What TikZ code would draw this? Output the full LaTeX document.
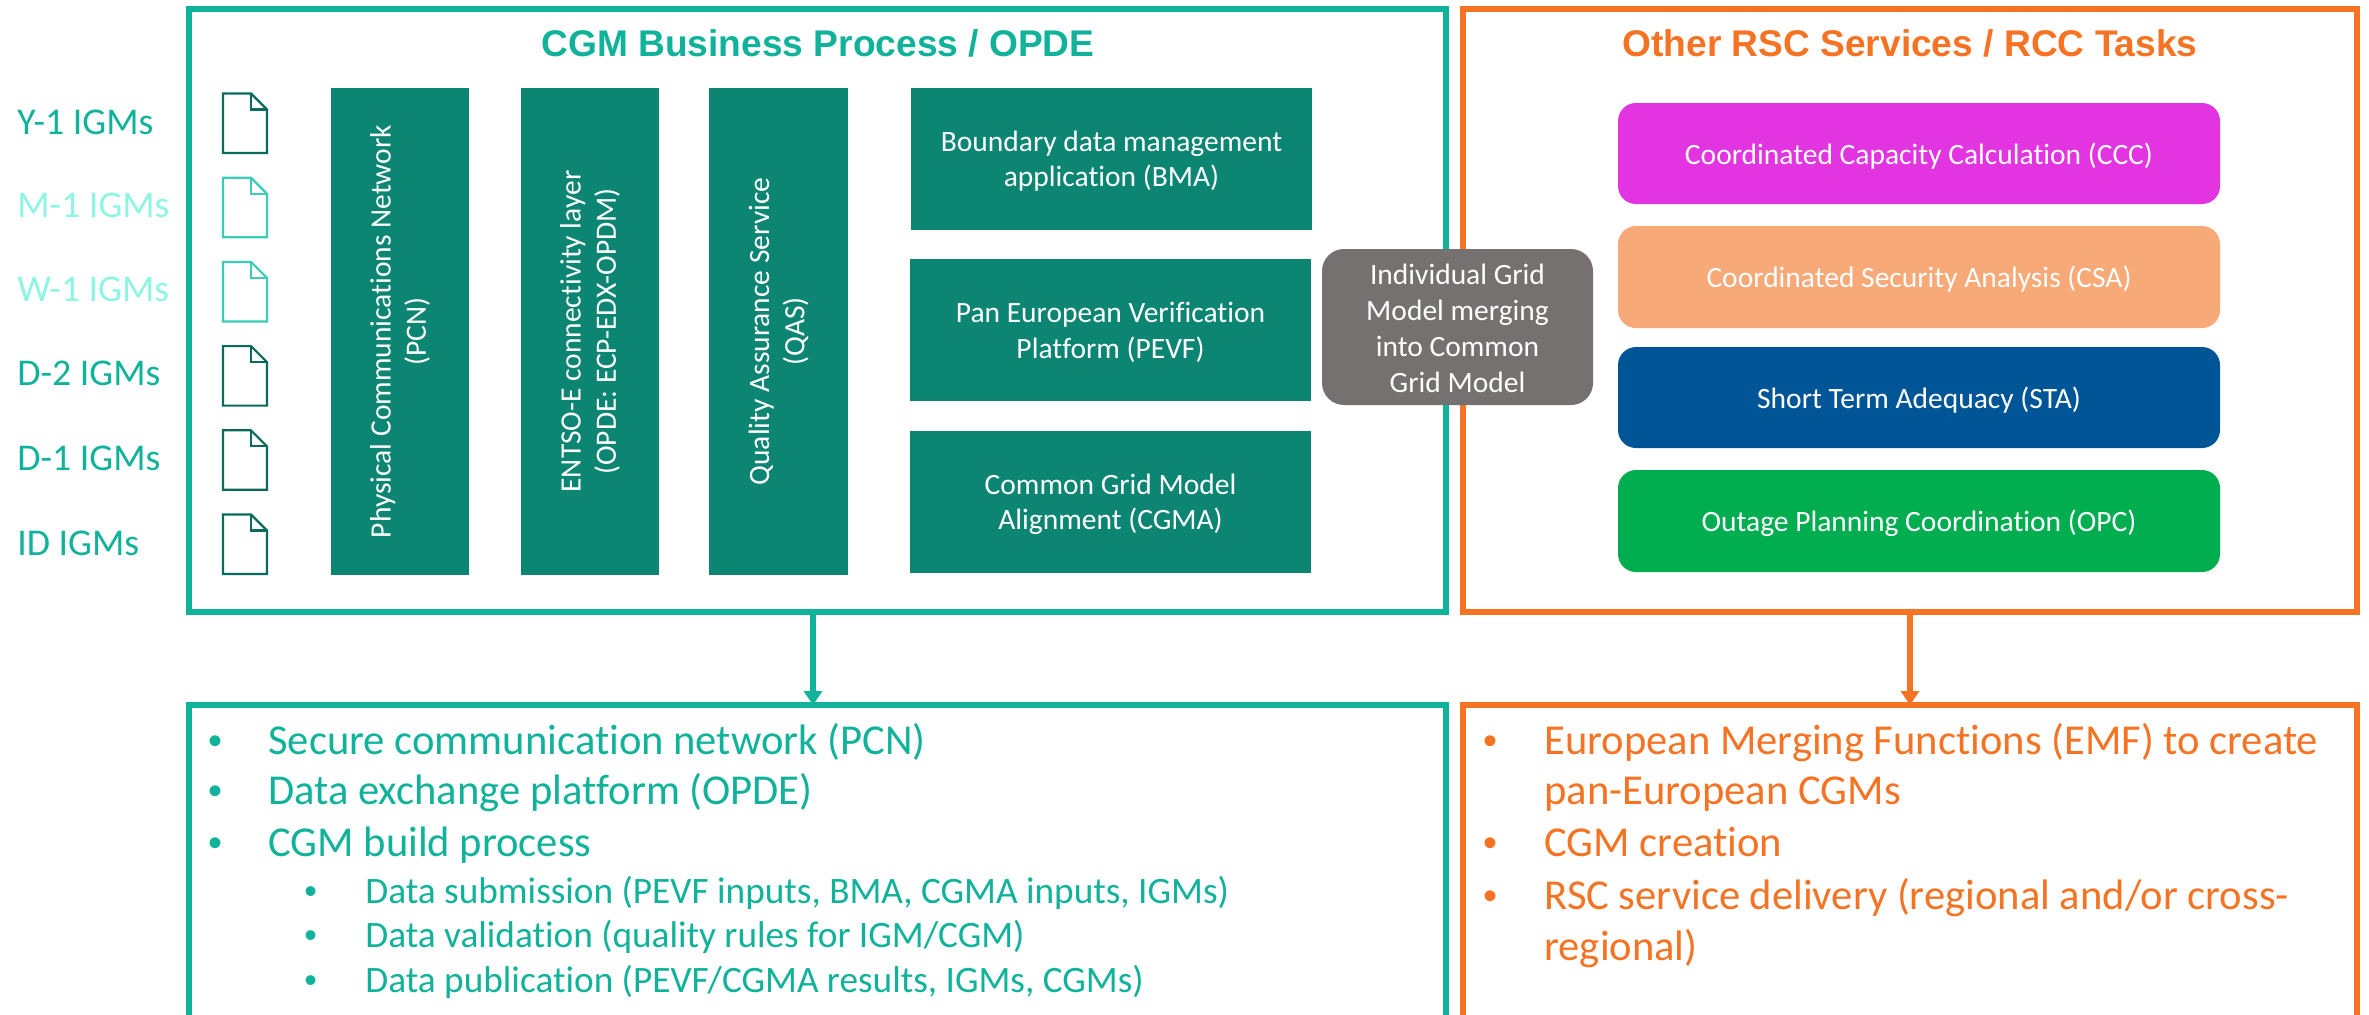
\documentclass[tikz,border=0pt]{standalone}
\usepackage{fontspec}
\setmainfont{Carlito}[Ligatures=NoCommon]
\newfontfamily\headfont{Liberation Sans}
\usetikzlibrary{arrows.meta,calc}
\definecolor{teal1}{HTML}{10B29A}
\definecolor{lightt}{HTML}{8FF5E3}
\definecolor{barc}{HTML}{0D8573}
\definecolor{docd}{HTML}{0A6B5C}
\definecolor{docl}{HTML}{3CCDB8}
\definecolor{oran}{HTML}{F57322}
\definecolor{greyb}{HTML}{767171}
\definecolor{mag}{HTML}{E234E0}
\definecolor{peach}{HTML}{F7A978}
\definecolor{blueb}{HTML}{005596}
\definecolor{greenb}{HTML}{00AE50}
\tikzset{
  x=0.5pt,y=-0.5pt,
  frame/.style={draw=#1,line width=3pt,inner sep=0pt,outer sep=0pt,anchor=north west},
  bar/.style={fill=barc,inner sep=0pt,outer sep=0pt,anchor=north west},
  wtext/.style={text=white,align=center,inner sep=0pt,font=\fontsize{14.75}{17.6}\selectfont},
  lbl/.style={wtext,yshift=-1.2pt},
  vert/.style={wtext,rotate=90},
  task/.style={fill=#1,rounded corners=9pt,inner sep=0pt,outer sep=0pt,anchor=north west,minimum width=301pt},
  igm/.style={anchor=base west,inner sep=0pt,text=#1,font=\fontsize{18.9}{22}\selectfont},
  head/.style={text=#1,font=\headfont\bfseries\fontsize{18.57}{20}\selectfont,inner sep=0pt},
  big/.style={anchor=base west,inner sep=0pt,text=#1,font=\fontsize{21.3}{24}\selectfont},
  small/.style={anchor=base west,inner sep=0pt,text=#1,font=\fontsize{18.65}{22}\selectfont},
  bigdot/.style={anchor=base west,inner sep=0pt,text=#1,font=\headfont\fontsize{20}{22}\selectfont},
  smalldot/.style={anchor=base west,inner sep=0pt,text=#1,font=\headfont\fontsize{18}{20}\selectfont},
  arr/.style={draw=#1,line width=3pt,-{Triangle[length=7pt,width=9pt]}},
  docshape/.style={draw=#1,line width=1.1pt,line join=miter},
}
\newcommand{\docicon}[3]{%
  \coordinate (#1) at (223,#2);
  \draw[docshape=#3] (#1) -- ++(28,0) -- ++(16,16) -- ++(0,43.5) -- ++(-44,0) -- cycle;
  \draw[docshape=#3] ($(#1)+(28,0)$) -- ++(0,16) -- ++(16,0);
}
\begin{document}
\begin{tikzpicture}
\useasboundingbox (0,0) rectangle (2369,1014);
% frames
\node[frame=teal1,minimum width=628.5pt,minimum height=301.5pt] (cgm) at (189,9) {};
\node[frame=oran,minimum width=447pt,minimum height=301.5pt] (rsc) at (1463,9) {};
\node[frame=teal1,minimum width=628.5pt,minimum height=180pt] (cgmout) at (189,705) {};
\node[frame=oran,minimum width=447pt,minimum height=180pt] (rscout) at (1463,705) {};
% titles
\node[head=teal1] (t1) at (818,43) {CGM Business Process / OPDE};
\node[head=oran] (t2) at (1910,43) {Other RSC Services / RCC Tasks};
% IGM labels
\node[igm=teal1] (l1) at (17,134) {Y-1 IGMs};
\node[igm=lightt] (l2) at (17,217) {M-1 IGMs};
\node[igm=lightt] (l3) at (17,301) {W-1 IGMs};
\node[igm=teal1] (l4) at (17,385) {D-2 IGMs};
\node[igm=teal1] (l5) at (17,470) {D-1 IGMs};
\node[igm=teal1] (l6) at (17,555) {ID IGMs};
% documents
\docicon{d1}{93.5}{docd}
\docicon{d2}{177.7}{docl}
\docicon{d3}{261.9}{docl}
\docicon{d4}{346.1}{docd}
\docicon{d5}{430.3}{docd}
\docicon{d6}{514.5}{docd}
% vertical bars
\node[bar,minimum width=69pt,minimum height=243.5pt] (pcn) at (331,88) {};
\node[vert] (pcnt) at (pcn.center) {Physical Communications Network\\(PCN)};
\node[bar,minimum width=69pt,minimum height=243.5pt] (ent) at (521,88) {};
\node[vert] (entt) at (ent.center) {ENTSO-E connectivity layer\\(OPDE: ECP-EDX-OPDM)};
\node[bar,minimum width=69.5pt,minimum height=243.5pt] (qas) at (709,88) {};
\node[vert] (qast) at (qas.center) {Quality Assurance Service\\(QAS)};
% horizontal bars
\node[bar,minimum width=200.5pt,minimum height=71pt,label={[lbl]center:{Boundary data management\\application (BMA)}}] (bma) at (911,88) {};
\node[bar,minimum width=200.5pt,minimum height=71pt,label={[lbl]center:{Pan European Verification\\Platform (PEVF)}}] (pevf) at (910,259) {};
\node[bar,minimum width=200.5pt,minimum height=71pt,label={[lbl]center:{Common Grid Model\\Alignment (CGMA)}}] (cgma) at (910,431) {};
% tasks
\node[task=mag,minimum height=50.5pt,label={[lbl]center:{Coordinated Capacity Calculation (CCC)}}] (ccc) at (1618,103) {};
\node[task=peach,minimum height=51pt,label={[lbl]center:{Coordinated Security Analysis (CSA)}}] (csa) at (1618,226) {};
\node[task=blueb,minimum height=50.5pt,label={[lbl]center:{Short Term Adequacy (STA)}}] (sta) at (1618,347) {};
\node[task=greenb,minimum height=51pt,label={[lbl]center:{Outage Planning Coordination (OPC)}}] (opc) at (1618,470) {};
% merge box
\node[fill=greyb,rounded corners=11pt,inner sep=0pt,outer sep=0pt,anchor=north west,minimum width=135.5pt,minimum height=78pt] (merge) at (1322,249) {};
\node[wtext,font=\fontsize{14.75}{18}\selectfont] (merget) at ($(merge.center)+(0,1)$) {Individual Grid\\Model merging\\into Common\\Grid Model};
% arrows
\coordinate (ax1) at (813,0);
\coordinate (ax2) at (1910,0);
\draw[arr=teal1] (ax1 |- cgm.south) -- (ax1 |- cgmout.north);
\draw[arr=oran] (ax2 |- rsc.south) -- (ax2 |- rscout.north);
% left list
\node[bigdot=teal1] (b1) at (208,754) {•};
\node[big=teal1] (x1) at (268,754) {Secure communication network (PCN)};
\node[bigdot=teal1] (b2) at (208,804) {•};
\node[big=teal1] (x2) at (268,804) {Data exchange platform (OPDE)};
\node[bigdot=teal1] (b3) at (208,856) {•};
\node[big=teal1] (x3) at (268,856) {CGM build process};
\node[smalldot=teal1] (b4) at (304,903) {•};
\node[small=teal1] (x4) at (365,903) {Data submission (PEVF inputs, BMA, CGMA inputs, IGMs)};
\node[smalldot=teal1] (b5) at (304,947) {•};
\node[small=teal1] (x5) at (365,947) {Data validation (quality rules for IGM/CGM)};
\node[smalldot=teal1] (b6) at (304,992) {•};
\node[small=teal1] (x6) at (365,992) {Data publication (PEVF/CGMA results, IGMs, CGMs)};
% right list
\node[bigdot=oran] (c1) at (1483,754) {•};
\node[big=oran] (y1) at (1544,754) {European Merging Functions (EMF) to create};
\node[big=oran] (y2) at (1544,804) {pan-European CGMs};
\node[bigdot=oran] (c3) at (1483,856) {•};
\node[big=oran] (y3) at (1544,856) {CGM creation};
\node[bigdot=oran] (c4) at (1483,909) {•};
\node[big=oran] (y4) at (1544,909) {RSC service delivery (regional and/or cross-};
\node[big=oran] (y5) at (1544,960) {regional)};
\end{tikzpicture}
\end{document}
